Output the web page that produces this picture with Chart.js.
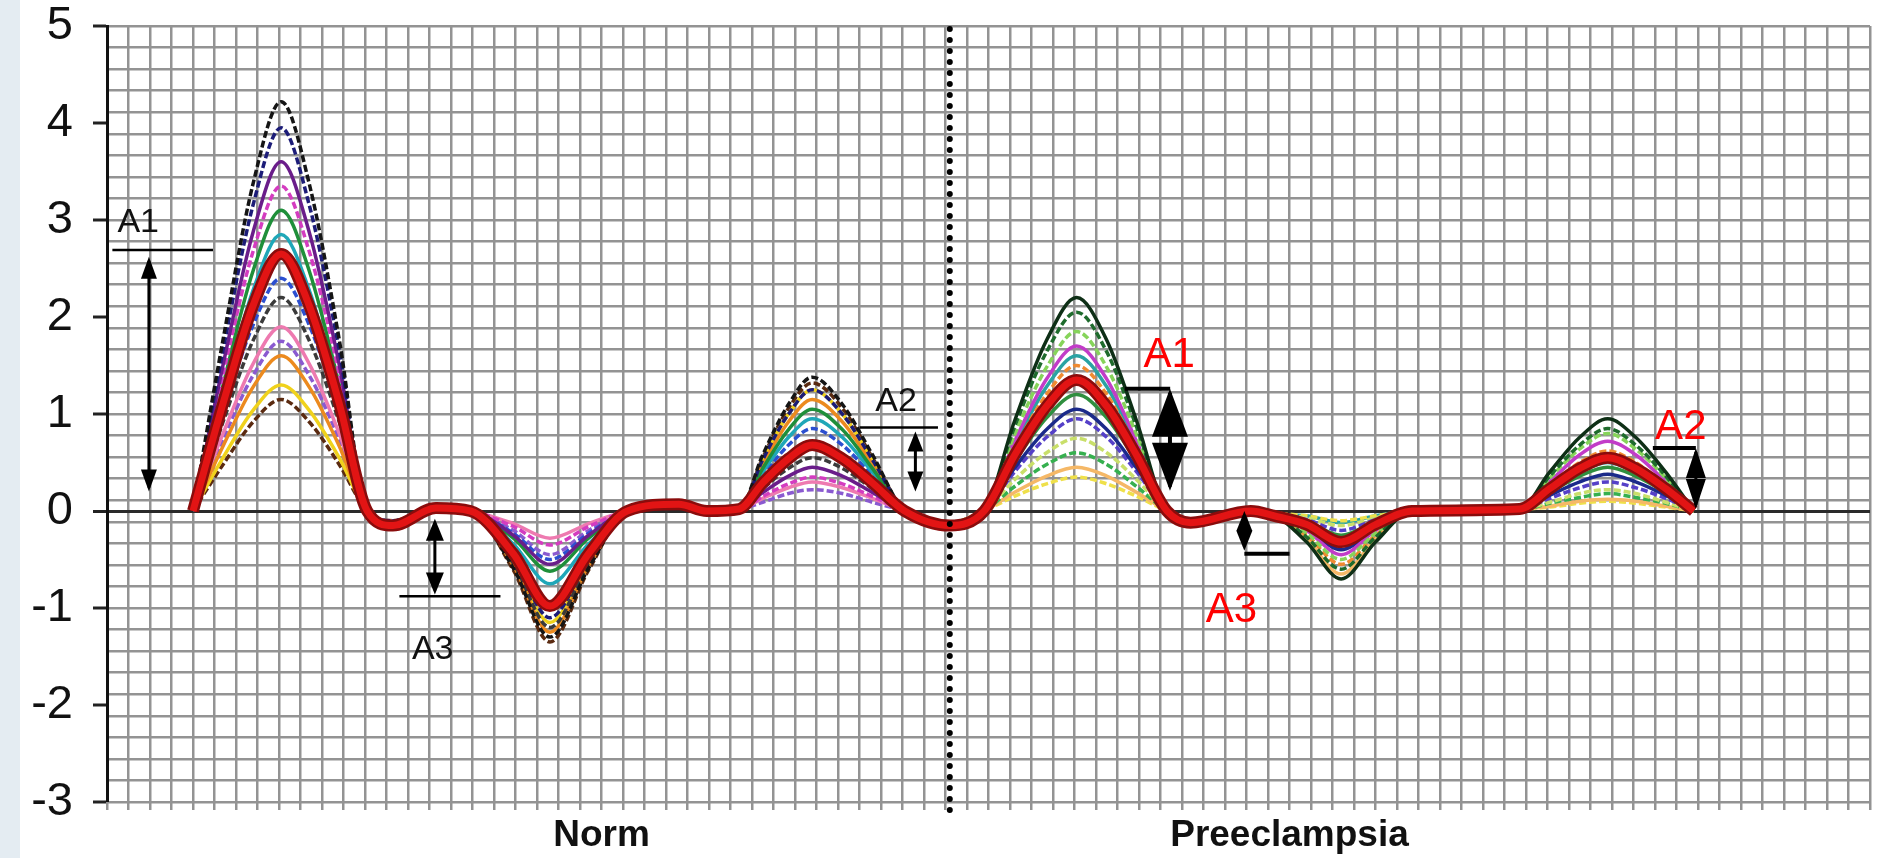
<!DOCTYPE html>
<html>
<head>
<meta charset="utf-8">
<script src="https://cdn.jsdelivr.net/npm/chart.js@4.4.1/dist/chart.umd.min.js"></script>
<style>
  html, body { margin: 0; padding: 0; }
  body { background: linear-gradient(to right, #e4ecf2 0, #e4ecf2 20px, #fff 20px); }
  #wrap { width: 1878px; height: 858px; position: relative; }
</style>
</head>
<body>
<div id="wrap"><canvas id="chart"></canvas></div>
<script>
// sample positions (in grid cells along the time axis) where the curves were read
const normX = [4.0, 5.4, 6.8, 8.1, 9.4, 10.8, 12.1, 13.3, 15.3, 16.9, 18.9, 20.6, 22.4, 24.2, 26.6, 27.9, 29.4, 30.5, 31.7, 32.8, 34.2, 35.6, 37.1, 39.2];
const preX = [39.2, 40.8, 42.2, 43.7, 45.1, 46.5, 47.9, 49.3, 50.4, 53.2, 54.3, 55.8, 57.4, 59.0, 60.7, 65.7, 67.1, 68.5, 69.8, 71.1, 72.5, 73.8];

// individual Norm waveforms
const normCurves = [
  [0, 1.77, 3.38, 4.22, 3.38, 1.77, 0, -0.12, 0.02, 0, -0.59, -1.30, -0.59, 0, 0.06, 0.02, 0.02, 0.58, 1.10, 1.38, 1.10, 0.58, 0, -0.14],
  [0, 1.66, 3.16, 3.95, 3.16, 1.66, 0, -0.10, 0.03, 0, -0.50, -1.10, -0.50, 0, 0.08, 0.03, 0.02, 0.53, 1.00, 1.25, 1.00, 0.53, 0, -0.16],
  [0, 1.51, 2.88, 3.60, 2.88, 1.51, 0, -0.13, 0.01, 0, -0.25, -0.55, -0.25, 0, 0.05, 0.01, 0.02, 0.19, 0.36, 0.45, 0.36, 0.19, 0, -0.13],
  [0, 1.41, 2.68, 3.35, 2.68, 1.41, 0, -0.11, 0.02, 0, -0.16, -0.35, -0.16, 0, 0.06, 0.02, 0.01, 0.15, 0.28, 0.35, 0.28, 0.15, 0, -0.15],
  [0, 1.30, 2.48, 3.10, 2.48, 1.30, 0, -0.12, 0.03, 0, -0.28, -0.62, -0.28, 0, 0.07, 0.02, 0.02, 0.44, 0.84, 1.05, 0.84, 0.44, 0, -0.15],
  [0, 1.20, 2.28, 2.85, 2.28, 1.20, 0, -0.14, 0.02, 0, -0.34, -0.75, -0.34, 0, 0.06, 0.01, 0.02, 0.40, 0.76, 0.95, 0.76, 0.40, 0, -0.14],
  [0, 1.01, 1.92, 2.40, 1.92, 1.01, 0, -0.10, 0.02, 0, -0.23, -0.50, -0.23, 0, 0.07, 0.02, 0.02, 0.36, 0.68, 0.85, 0.68, 0.36, 0, -0.16],
  [0, 0.92, 1.76, 2.20, 1.76, 0.92, 0, -0.13, 0.02, 0, -0.54, -1.20, -0.54, 0, 0.06, 0.02, 0.01, 0.23, 0.44, 0.55, 0.44, 0.23, 0, -0.15],
  [0, 0.67, 1.28, 1.60, 1.28, 0.67, 0, -0.10, 0.03, 0, -0.56, -1.25, -0.56, 0, 0.08, 0.02, 0.02, 0.48, 0.92, 1.15, 0.92, 0.48, 0, -0.15],
  [0, 0.55, 1.04, 1.30, 1.04, 0.55, 0, -0.12, 0.02, 0, -0.52, -1.15, -0.52, 0, 0.07, 0.02, 0.02, 0.53, 1.00, 1.25, 1.00, 0.53, 0, -0.14],
  [0, 0.48, 0.92, 1.15, 0.92, 0.48, 0, -0.11, 0.02, 0, -0.61, -1.35, -0.61, 0, 0.06, 0.02, 0.02, 0.55, 1.06, 1.32, 1.06, 0.55, 0, -0.16],
  [0, 0.80, 1.52, 1.90, 1.52, 0.80, 0, -0.12, 0.02, 0, -0.13, -0.28, -0.13, 0, 0.05, 0.02, 0.02, 0.13, 0.24, 0.30, 0.24, 0.13, 0, -0.14],
  [0, 0.74, 1.40, 1.75, 1.40, 0.74, 0, -0.10, 0.03, 0, -0.20, -0.45, -0.20, 0, 0.06, 0.01, 0.02, 0.09, 0.18, 0.22, 0.18, 0.09, 0, -0.15]
];
const normMean = [0, 1.11, 2.12, 2.65, 2.12, 1.11, 0, -0.15, 0.03, 0, -0.44, -0.98, -0.44, 0, 0.07, 0.00, 0.02, 0.29, 0.54, 0.68, 0.54, 0.29, 0, -0.15];

// individual Preeclampsia waveforms
const preCurves = [
  [-0.15, 0, 0.92, 1.76, 2.20, 1.76, 0.92, 0, -0.10, 0.00, -0.04, -0.32, -0.70, -0.32, 0, 0.02, 0.40, 0.76, 0.95, 0.76, 0.40, 0],
  [-0.14, 0, 0.86, 1.64, 2.05, 1.64, 0.86, 0, -0.09, 0.01, -0.03, -0.27, -0.60, -0.27, 0, 0.02, 0.36, 0.68, 0.85, 0.68, 0.36, 0],
  [-0.15, 0, 0.78, 1.48, 1.85, 1.48, 0.78, 0, -0.11, 0.00, -0.04, -0.23, -0.50, -0.23, 0, 0.02, 0.34, 0.64, 0.80, 0.64, 0.34, 0],
  [-0.16, 0, 0.71, 1.36, 1.70, 1.36, 0.71, 0, -0.10, 0.01, -0.03, -0.20, -0.45, -0.20, 0, 0.01, 0.30, 0.58, 0.72, 0.58, 0.30, 0],
  [-0.15, 0, 0.63, 1.20, 1.50, 1.20, 0.63, 0, -0.09, 0.00, -0.04, -0.25, -0.55, -0.25, 0, 0.02, 0.26, 0.50, 0.62, 0.50, 0.26, 0],
  [-0.14, 0, 0.50, 0.96, 1.20, 0.96, 0.50, 0, -0.10, 0.01, -0.03, -0.11, -0.25, -0.11, 0, 0.02, 0.19, 0.36, 0.45, 0.36, 0.19, 0],
  [-0.15, 0, 0.44, 0.84, 1.05, 0.84, 0.44, 0, -0.11, 0.00, -0.04, -0.18, -0.40, -0.18, 0, 0.01, 0.16, 0.30, 0.38, 0.30, 0.16, 0],
  [-0.16, 0, 0.40, 0.76, 0.95, 0.76, 0.40, 0, -0.09, 0.01, -0.03, -0.09, -0.20, -0.09, 0, 0.02, 0.13, 0.24, 0.30, 0.24, 0.13, 0],
  [-0.15, 0, 0.32, 0.60, 0.75, 0.60, 0.32, 0, -0.10, 0.00, -0.03, -0.07, -0.15, -0.07, 0, 0.02, 0.09, 0.18, 0.22, 0.18, 0.09, 0],
  [-0.14, 0, 0.25, 0.48, 0.60, 0.48, 0.25, 0, -0.10, 0.01, -0.04, -0.14, -0.30, -0.14, 0, 0.01, 0.08, 0.14, 0.18, 0.14, 0.08, 0],
  [-0.15, 0, 0.19, 0.36, 0.45, 0.36, 0.19, 0, -0.11, 0.00, -0.04, -0.29, -0.65, -0.29, 0, 0.02, 0.05, 0.10, 0.12, 0.10, 0.05, 0],
  [-0.15, 0, 0.15, 0.28, 0.35, 0.28, 0.15, 0, -0.09, 0.01, -0.02, -0.05, -0.10, -0.05, 0, 0.02, 0.04, 0.08, 0.10, 0.08, 0.04, 0],
  [-0.16, 0, 0.67, 1.28, 1.60, 1.28, 0.67, 0, -0.10, 0.00, -0.03, -0.05, -0.12, -0.05, 0, 0.02, 0.21, 0.40, 0.50, 0.40, 0.21, 0]
];
const preMean = [-0.15, 0, 0.57, 1.08, 1.35, 1.08, 0.57, 0, -0.12, 0.00, -0.05, -0.14, -0.32, -0.14, 0, 0.02, 0.23, 0.44, 0.55, 0.44, 0.23, 0];

const groupLabels = ['Norm', 'Preeclampsia'];
const groupLabelAt = [23, 55];
const dividerAt = 39.2;
const yMin = -3, yMax = 5;

// colours / dash flags for the thin curves
const normColors = ['#151515', '#1c1c78', '#6a1d8a', '#d43cc0', '#1f8f3a', '#1fa7b8', '#2c4fd0', '#3a3a3a', '#ec8a1e', '#f0d21c', '#5a2a10', '#ee7ab0', '#8a5ad0'];
const normDashed = [true, true, false, true, false, false, true, true, false, false, true, false, true];
const preColors = ['#0e2f16', '#1e6b2c', '#86d45a', '#c23cc8', '#f08a30', '#2f8f3f', '#1b2a8a', '#5540c8', '#c9df6a', '#36b04f', '#f5b867', '#efe04a', '#2aa3a3'];
const preDashed = [false, true, true, false, true, false, false, true, true, true, false, true, false];

// A1/A2/A3 markers, in axis units
const bars = [
  [0.25, 4.93, 2.69, 2.5], [35.0, 38.65, 0.86, 2.5], [13.6, 18.3, -0.88, 2.5],
  [47.35, 49.45, 1.26, 4], [52.9, 55.0, -0.44, 4], [71.9, 73.9, 0.65, 4]
];
const arrows = [
  { x: 1.95, top: 2.62, bottom: 0.2, len: 22, half: 8, lw: 3 },
  { x: 37.6, top: 0.82, bottom: 0.2, len: 20, half: 8, lw: 3 },
  { x: 15.25, top: -0.08, bottom: -0.86, len: 22, half: 9, lw: 3 },
  { x: 49.44, top: 1.26, bottom: 0.21, len: 48, half: 18, lw: 4 },
  { x: 52.9, top: 0.0, bottom: -0.41, len: 20, half: 8, lw: 3 },
  { x: 73.9, top: 0.65, bottom: 0.02, len: 30, half: 10, lw: 3 }
];
const marks = [
  { text: 'A1', x: 1.45, y: 2.88, color: '#111', size: 34 },
  { text: 'A2', x: 36.7, y: 1.03, color: '#111', size: 34 },
  { text: 'A3', x: 15.15, y: -1.53, color: '#111', size: 34 },
  { text: 'A1', x: 49.4, y: 1.48, color: '#ff0000', size: 42 },
  { text: 'A3', x: 52.3, y: -1.14, color: '#ff0000', size: 42 },
  { text: 'A2', x: 73.2, y: 0.74, color: '#ff0000', size: 42 }
];

const toPts = (xs, ys) => ys.map((v, i) => ({ x: xs[i], y: v }));

const datasets = [];
normCurves.forEach((c, i) => datasets.push({
  data: toPts(normX, c), borderColor: normColors[i], borderWidth: 3.5,
  borderDash: normDashed[i] ? [7, 3] : [], order: 10
}));
preCurves.forEach((c, i) => datasets.push({
  data: toPts(preX, c), borderColor: preColors[i], borderWidth: 3.5,
  borderDash: preDashed[i] ? [7, 3] : [], order: 10
}));
const meanX = normX.concat(preX.slice(1));
const meanY = normMean.concat(preMean.slice(1));
datasets.push({ data: toPts(meanX, meanY), borderColor: '#8a0c0c', borderWidth: 12, order: 3 });
datasets.push({ data: toPts(meanX, meanY), borderColor: '#e21414', borderWidth: 7, order: 2 });
datasets.push({
  data: [{ x: dividerAt, y: yMax - 0.03 }, { x: dividerAt, y: yMin - 0.13 }],
  borderColor: '#000', borderWidth: 6, borderDash: [0, 11], borderCapStyle: 'round',
  clip: false, order: 1, cubicInterpolationMode: 'default', tension: 0
});

function head(ctx, px, tip, len, half, dir) {
  ctx.beginPath();
  ctx.moveTo(px, tip);
  ctx.lineTo(px - half, tip + dir * len);
  ctx.lineTo(px + half, tip + dir * len);
  ctx.closePath();
  ctx.fill();
}

const annotate = {
  id: 'annotate',
  afterDatasetsDraw(chart) {
    const { ctx, scales: { x, y } } = chart;
    ctx.save();
    ctx.strokeStyle = '#000';
    ctx.fillStyle = '#000';
    bars.forEach(b => {
      ctx.lineWidth = b[3];
      ctx.beginPath();
      ctx.moveTo(x.getPixelForValue(b[0]), y.getPixelForValue(b[2]));
      ctx.lineTo(x.getPixelForValue(b[1]), y.getPixelForValue(b[2]));
      ctx.stroke();
    });
    arrows.forEach(a => {
      const px = x.getPixelForValue(a.x);
      const t = y.getPixelForValue(a.top), b = y.getPixelForValue(a.bottom);
      ctx.lineWidth = a.lw;
      ctx.beginPath();
      ctx.moveTo(px, t + 4);
      ctx.lineTo(px, b - 4);
      ctx.stroke();
      head(ctx, px, t, Math.min(a.len, (b - t) / 2 + 2), a.half, 1);
      head(ctx, px, b, Math.min(a.len, (b - t) / 2 + 2), a.half, -1);
    });
    ctx.textAlign = 'center';
    ctx.textBaseline = 'alphabetic';
    marks.forEach(m => {
      ctx.font = m.size + 'px "Liberation Sans", Arial, sans-serif';
      ctx.fillStyle = m.color;
      ctx.fillText(m.text, x.getPixelForValue(m.x), y.getPixelForValue(m.y));
    });
    ctx.restore();
  }
};

new Chart(document.getElementById('chart'), {
  type: 'line',
  data: { datasets },
  options: {
    responsive: true,
    maintainAspectRatio: false,
    animation: false,
    layout: { padding: { top: 0, right: 8, left: 0, bottom: 0 } },
    elements: {
      point: { radius: 0 },
      line: { cubicInterpolationMode: 'monotone', fill: false }
    },
    plugins: { legend: { display: false }, tooltip: { enabled: false } },
    scales: {
      x: {
        type: 'linear', min: 0, max: 82,
        grid: { color: '#939393', lineWidth: 2.5, tickLength: 8, tickColor: '#939393' },
        border: { display: false },
        ticks: {
          stepSize: 1, autoSkip: false, maxRotation: 0, padding: 4,
          color: '#111',
          font: { family: '"Liberation Sans", Arial, sans-serif', size: 37, weight: 'bold' },
          callback: v => { const k = groupLabelAt.indexOf(v); return k >= 0 ? groupLabels[k] : ''; }
        },
        afterFit: s => { s.height = 56; s.paddingLeft = 0; s.paddingRight = 0; }
      },
      y: {
        min: yMin, max: yMax,
        grid: {
          color: c => c.tick && c.tick.value === 0 ? '#2a2a2a' : 'rgba(0,0,0,0)',
          lineWidth: c => c.tick && c.tick.value === 0 ? 3 : 0,
          tickColor: '#222', tickLength: 14, tickWidth: 3
        },
        border: { display: true, color: '#111', width: 3 },
        ticks: {
          stepSize: 1, padding: 20, color: '#111',
          font: { family: '"Liberation Sans", Arial, sans-serif', size: 47 }
        },
        afterFit: s => { s.width = 107; s.paddingTop = 26; s.paddingBottom = 0; }
      },
      y2: {
        type: 'linear', position: 'right', min: 0, max: 36,
        grid: { color: '#939393', lineWidth: 2.5, drawTicks: false },
        border: { display: false },
        ticks: { stepSize: 1, display: false },
        afterFit: s => { s.width = 0; s.paddingTop = 0; s.paddingBottom = 0; }
      }
    }
  },
  plugins: [annotate]
});
</script>
</body>
</html>
